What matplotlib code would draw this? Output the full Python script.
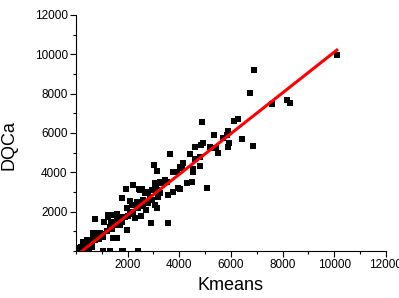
import numpy as np
import matplotlib
matplotlib.use('Agg')
import matplotlib.pyplot as plt
from matplotlib.ticker import MultipleLocator, FixedLocator

plt.rcParams['font.family'] = ['Liberation Sans', 'DejaVu Sans']

# 数据：从图上估读
kmeans = [10100, 6880, 6740, 8160, 8280, 7580, 6120, 6280, 4870, 5880,
          5340, 5830, 5680, 6410, 4930, 5910, 5900, 6840, 5250, 5420,
          4860, 5190, 4610, 5510, 4410, 3640, 4800, 4610, 4800, 5080,
          3020, 3120, 4130, 4520, 4030, 4090, 4540, 3770, 3900, 4480,
          4290, 4030, 3770, 3510, 3450, 3380, 3060, 3120, 3060, 3250,
          3100, 3120, 3250, 3190, 2800, 2860, 2930, 2930, 2800, 2670,
          2480, 3570, 3960, 3570, 2890, 2220, 2450, 2540, 1940, 1770,
          2090, 2350, 2610, 2800, 3060, 3120, 1960, 2160, 1580, 1250,
          1440, 1700, 1250, 740, 1960, 1580, 670, 930, 1060, 1440,
          860, 990, 280, 410, 1060, 1320, 1770, 1830, 2410,
          2000, 2200, 2400, 1800, 1500, 1300, 1200, 1100, 1350, 1600,
          2500, 2700, 2300, 1700, 2100, 1400, 1900, 2600,
          30, 80, 120, 160, 200, 250, 300, 350, 400, 450,
          500, 550, 600, 650, 700, 750, 800, 850, 100, 200,
          300, 500, 600, 900, 950]
dqca = [9970, 9220, 8050, 7680, 7520, 7460, 6620, 6700, 6570, 6120,
        5900, 5900, 5760, 5710, 5480, 5480, 5300, 5340, 5250, 5250,
        5390, 5270, 5270, 4970, 4930, 4930, 4790, 4660, 4340, 3220,
        4390, 4070, 4460, 4150, 4290, 4200, 4000, 4030, 4030, 3490,
        3470, 3150, 3020, 3520, 3610, 3440, 3440, 3470, 3360, 3520,
        3270, 3100, 2960, 2760, 2930, 2730, 2590, 3100, 3020, 2930,
        3100, 2850, 3190, 1410, 1410, 3370, 3140, 3140, 3140, 2680,
        2560, 2480, 2590, 2420, 2340, 2170, 2170, 2340, 1880, 1830,
        1830, 1740, 1740, 1630, 1070, 650, 930, 930, 700, 650,
        900, 810, 470, 560, 10, 10, 10, 10, 10,
        1800, 2000, 2200, 1500, 1300, 1200, 1000, 1500, 1450, 1600,
        1800, 2100, 1700, 1300, 1900, 1100, 1750, 2300,
        40, 60, 150, 100, 220, 180, 300, 250, 400, 350,
        450, 520, 480, 600, 650, 550, 700, 750, 20, 30,
        50, 100, 200, 600, 850]

# 线性拟合参数
fit_slope = 1.035
fit_intercept = -240

fig = plt.figure(figsize=(3.99, 2.98), dpi=100)
ax = fig.add_axes([0.1905, 0.1577, 0.7765, 0.792])

ax.scatter(kmeans, dqca, marker='s', s=18, color='black', linewidths=0, zorder=2)
xs = np.array([min(kmeans), max(kmeans)])
ax.plot(xs, fit_slope * xs + fit_intercept, color='red', lw=2.2, zorder=3)

ax.set_xlim(0, 12000)
ax.set_ylim(0, 12000)
ax.xaxis.set_major_locator(FixedLocator([2000, 4000, 6000, 8000, 10000, 12000]))
ax.yaxis.set_major_locator(FixedLocator([2000, 4000, 6000, 8000, 10000, 12000]))
ax.xaxis.set_minor_locator(MultipleLocator(1000))
ax.yaxis.set_minor_locator(MultipleLocator(1000))
ax.tick_params(which='major', direction='out', length=4, width=0.8, labelsize=8.5, pad=2)
ax.tick_params(which='minor', direction='out', length=2.2, width=0.8)

for s in ['top', 'right']:
    ax.spines[s].set_visible(False)
for s in ['left', 'bottom']:
    ax.spines[s].set_linewidth(0.8)

ax.set_xlabel('Kmeans', fontsize=13, labelpad=4)
ax.set_ylabel('DQCa', fontsize=13)
ax.yaxis.set_label_coords(-0.19, 0.449)

fig.savefig('out.png', dpi=100)
